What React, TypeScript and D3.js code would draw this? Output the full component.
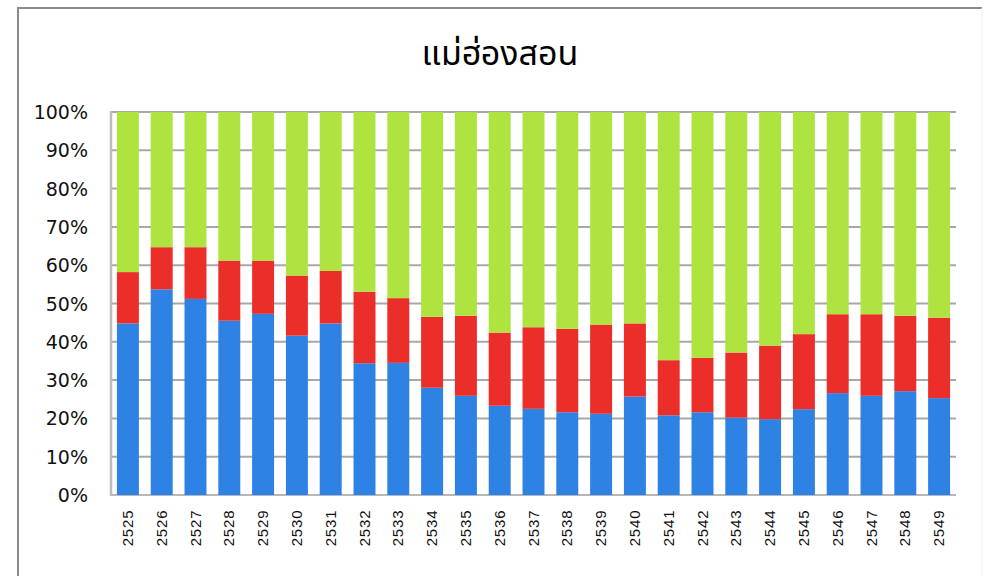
import React from "react";
import * as d3 from "d3";

const years = [
  "2525", "2526", "2527", "2528", "2529", "2530", "2531", "2532", "2533", "2534",
  "2535", "2536", "2537", "2538", "2539", "2540", "2541", "2542", "2543", "2544",
  "2545", "2546", "2547", "2548", "2549",
];
// cumulative tops (percent)
const blueTop = [
  44.8, 53.7, 51.2, 45.5, 47.3, 41.6, 44.8, 34.4, 34.5, 28.0,
  25.9, 23.3, 22.5, 21.6, 21.2, 25.7, 20.8, 21.6, 20.2, 19.8,
  22.4, 26.6, 25.9, 27.1, 25.3,
];
const redTop = [
  58.2, 64.7, 64.7, 61.2, 61.2, 57.3, 58.5, 53.1, 51.4, 46.5,
  46.8, 42.4, 43.8, 43.4, 44.5, 44.8, 35.2, 35.8, 37.2, 39.0,
  42.0, 47.2, 47.2, 46.8, 46.3,
];
const blueSeries = blueTop;
const redSeries = redTop.map((t, i) => +(t - blueTop[i]).toFixed(1));
const greenSeries = redTop.map((t) => +(100 - t).toFixed(1));

const seriesKeys = ["blue", "red", "green"];
const seriesColors = ["#2e82e4", "#ec2e2a", "#afe440"];
const yTicks = [0, 10, 20, 30, 40, 50, 60, 70, 80, 90, 100];
const title = "แม่ฮ่องสอน";

const W = 987;
const H = 576;
const plot = { left: 111, right: 956, top: 112, bottom: 495 };

export default function App() {
  const rows = years.map((y, i) => ({
    year: y,
    blue: blueSeries[i],
    red: redSeries[i],
    green: greenSeries[i],
  }));
  const stack = d3.stack<any>().keys(seriesKeys)(rows);
  const x = d3
    .scaleBand<string>()
    .domain(years)
    .range([plot.left, plot.right])
    .paddingInner(0.35)
    .paddingOuter(0.175);
  const y = d3.scaleLinear().domain([0, 100]).range([plot.bottom, plot.top]);

  return (
    <svg
      width={W}
      height={H}
      style={{ position: "absolute", left: 0, top: 0, display: "block", background: "#fff" }}
    >
      {/* outer frame */}
      <line x1={18} y1={8} x2={18} y2={H} stroke="#8a8a8a" strokeWidth={2} />
      <line x1={17} y1={8} x2={982} y2={8} stroke="#8a8a8a" strokeWidth={2} />
      <line x1={982} y1={8} x2={982} y2={H} stroke="#f0f0f0" strokeWidth={1} />

      <text
        x={500}
        y={65}
        textAnchor="middle"
        fontFamily="'Noto Sans Thai', 'Noto Sans', 'DejaVu Sans', sans-serif"
        fontSize={34}
        fontWeight={400}
        fill="#000"
      >
        {title}
      </text>

      {/* gridlines */}
      {yTicks.map((t) => (
        <line
          key={t}
          x1={plot.left}
          x2={plot.right}
          y1={y(t)}
          y2={y(t)}
          stroke={t === 0 ? "#b8b8b8" : "#a8a8a8"}
          strokeWidth={2}
        />
      ))}
      <line
        x1={plot.left}
        x2={plot.left}
        y1={plot.top - 1}
        y2={plot.bottom + 1}
        stroke="#bcbcbc"
        strokeWidth={2.5}
      />

      {/* bars */}
      {stack.map((layer, li) => (
        <g key={seriesKeys[li]} fill={seriesColors[li]}>
          {layer.map((d, i) => (
            <rect
              key={i}
              x={x(years[i])}
              width={x.bandwidth()}
              y={y(d[1])}
              height={y(d[0]) - y(d[1])}
            />
          ))}
        </g>
      ))}

      {/* y labels */}
      {yTicks.map((t) => (
        <text
          key={t}
          x={88}
          y={y(t) + 7}
          textAnchor="end"
          fontFamily="'DejaVu Sans', sans-serif"
          fontSize={19}
          fill="#111"
        >
          {t + "%"}
        </text>
      ))}

      {/* x labels */}
      {years.map((yr) => {
        const cx = (x(yr) as number) + x.bandwidth() / 2;
        return (
          <text
            key={yr}
            transform={`translate(${cx + 5},${528}) rotate(-90)`}
            textAnchor="middle"
            fontFamily="'Liberation Sans', Arial, sans-serif"
            fontSize={15}
            letterSpacing={0.8}
            fill="#111"
          >
            {yr}
          </text>
        );
      })}
    </svg>
  );
}
